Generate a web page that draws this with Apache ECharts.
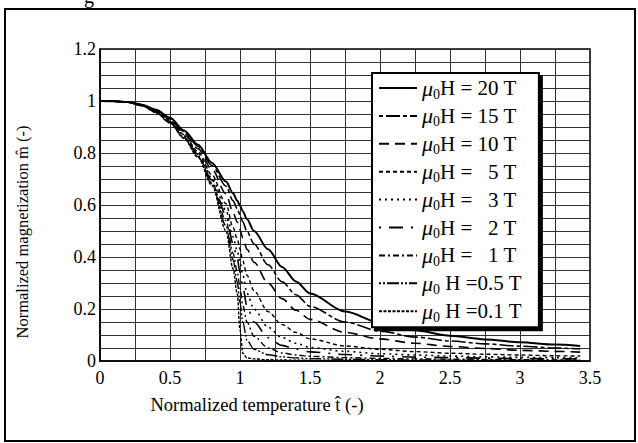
<!DOCTYPE html>
<html>
<head>
<meta charset="utf-8">
<script src="https://cdn.jsdelivr.net/npm/echarts@6/dist/echarts.min.js"></script>
<style>
html, body { margin: 0; padding: 0; background: #fff; }
#chart { width: 638px; height: 443px; }
</style>
</head>
<body>
<div id="chart"></div>
<script>
// 归一化温度
var tHat = [0, 0.1, 0.2, 0.3, 0.4, 0.5, 0.6, 0.7, 0.8, 0.9, 0.95, 0.98, 1.0, 1.02, 1.05, 1.1, 1.2, 1.3, 1.4, 1.5, 1.75, 2.0, 2.25, 2.5, 2.75, 3.0, 3.25, 3.43];
// 各磁场下的归一化磁化强度
var m20T = [1, 0.999, 0.996, 0.986, 0.966, 0.936, 0.887, 0.832, 0.762, 0.69, 0.645, 0.617, 0.597, 0.576, 0.545, 0.50, 0.43, 0.362, 0.306, 0.26, 0.19, 0.148, 0.118, 0.097, 0.083, 0.072, 0.063, 0.058];
var m15T = [1, 0.999, 0.996, 0.985, 0.964, 0.933, 0.883, 0.826, 0.752, 0.672, 0.617, 0.586, 0.562, 0.535, 0.498, 0.45, 0.37, 0.305, 0.255, 0.21, 0.15, 0.115, 0.092, 0.077, 0.066, 0.057, 0.05, 0.046];
var m10T = [1, 0.999, 0.996, 0.985, 0.962, 0.929, 0.877, 0.817, 0.737, 0.643, 0.572, 0.535, 0.505, 0.473, 0.43, 0.38, 0.30, 0.24, 0.195, 0.16, 0.11, 0.085, 0.068, 0.056, 0.048, 0.041, 0.037, 0.034];
var m5T = [1, 0.999, 0.995, 0.984, 0.96, 0.925, 0.871, 0.806, 0.715, 0.605, 0.515, 0.47, 0.43, 0.385, 0.33, 0.27, 0.19, 0.14, 0.11, 0.085, 0.058, 0.045, 0.036, 0.030, 0.026, 0.023, 0.020, 0.019];
var m3T = [1, 0.999, 0.995, 0.984, 0.959, 0.922, 0.867, 0.799, 0.703, 0.58, 0.478, 0.425, 0.38, 0.33, 0.26, 0.20, 0.13, 0.09, 0.068, 0.052, 0.037, 0.028, 0.023, 0.019, 0.016, 0.014, 0.013, 0.012];
var m2T = [1, 0.999, 0.995, 0.983, 0.958, 0.92, 0.864, 0.795, 0.695, 0.562, 0.452, 0.395, 0.34, 0.285, 0.21, 0.15, 0.09, 0.06, 0.045, 0.035, 0.025, 0.019, 0.015, 0.013, 0.011, 0.0095, 0.0085, 0.008];
var m1T = [1, 0.999, 0.995, 0.983, 0.957, 0.918, 0.861, 0.79, 0.686, 0.54, 0.415, 0.345, 0.28, 0.215, 0.15, 0.095, 0.05, 0.031, 0.023, 0.018, 0.013, 0.01, 0.008, 0.007, 0.006, 0.005, 0.0045, 0.004];
var m05T = [1, 0.999, 0.995, 0.982, 0.956, 0.916, 0.858, 0.786, 0.68, 0.52, 0.39, 0.305, 0.225, 0.15, 0.08, 0.045, 0.024, 0.016, 0.012, 0.009, 0.007, 0.005, 0.004, 0.0035, 0.003, 0.0027, 0.0024, 0.0022];
var m01T = [1, 0.999, 0.995, 0.982, 0.955, 0.915, 0.856, 0.783, 0.675, 0.50, 0.355, 0.26, 0.12, 0.03, 0.012, 0.008, 0.005, 0.004, 0.003, 0.0025, 0.002, 0.0015, 0.0012, 0.001, 0.001, 0.0009, 0.0008, 0.0007];

// 图例文字
var fieldLabels = ['H = 20 T', 'H = 15 T', 'H = 10 T', 'H =   5 T', 'H =   3 T', 'H =   2 T', 'H =   1 T', ' H =0.5 T', ' H =0.1 T'];
var curves = [m20T, m15T, m10T, m5T, m3T, m2T, m1T, m05T, m01T];

// 线型
var lineTypes = [
	'solid',
	[4, 3, 14, 3],
	[10, 6],
	[4, 3],
	[2, 4],
	[2, 8, 14, 8],
	[6, 3, 2, 3],
	[2, 2, 2, 2, 12, 2],
	[3, 1.5]
];
var lineWidths = [2, 1.6, 1.6, 1.4, 1.6, 1.6, 1.4, 1.4, 1.4];

var serif = '"Liberation Serif", "Times New Roman", serif';

var series = curves.map(function(arr, k) {
	return {
		name : fieldLabels[k],
		type : 'line',
		symbol : 'none',
		smooth : 0.3,
		smoothMonotone : 'x',
		lineStyle : {
			color : '#000',
			width : lineWidths[k],
			type : lineTypes[k]
		},
		itemStyle : {
			color : '#000'
		},
		data : tHat.map(function(t, i) {
			return [ t, arr[i] ];
		})
	};
});

var chart = echarts.init(document.getElementById('chart'), null, {
	renderer : 'svg'
});

var gridLine = {
	show : true,
	lineStyle : {
		color : '#333',
		width : 1
	}
};

chart.setOption({
	animation : false,
	backgroundColor : '#fff',
	grid : {
		left : 100,
		right : 48,
		top : 49,
		bottom : 82,
		show : true,
		borderColor : '#000',
		borderWidth : 1.5
	},
	xAxis : {
		type : 'value',
		min : 0,
		max : 3.5,
		interval : 0.5,
		axisLine : {
			show : true,
			lineStyle : {
				color : '#000',
				width : 1.5
			}
		},
		axisTick : {
			show : false
		},
		axisLabel : {
			color : '#000',
			fontFamily : serif,
			fontSize : 18,
			margin : 8
		},
		splitLine : gridLine,
		minorTick : {
			show : false,
			splitNumber : 2
		},
		minorSplitLine : gridLine
	},
	yAxis : {
		type : 'value',
		min : 0,
		max : 1.2,
		interval : 0.2,
		axisLine : {
			show : true,
			lineStyle : {
				color : '#000',
				width : 1.5
			}
		},
		axisTick : {
			show : false
		},
		axisLabel : {
			color : '#000',
			fontFamily : serif,
			fontSize : 18,
			margin : 4
		},
		splitLine : gridLine,
		minorTick : {
			show : false,
			splitNumber : 4
		},
		minorSplitLine : gridLine
	},
	legend : {
		orient : 'vertical',
		left : 372,
		top : 73,
		padding : [ 4, 17, 3, 6 ],
		itemWidth : 38,
		itemHeight : 14,
		itemGap : 3.9,
		backgroundColor : '#fff',
		borderColor : '#000',
		borderWidth : 2,
		borderRadius : 0,
		shadowColor : '#000',
		shadowOffsetX : 3,
		shadowOffsetY : 3,
		shadowBlur : 0,
		// 隐藏图例中的圆点
		itemStyle : {
			color : 'rgba(0,0,0,0)',
			borderColor : 'rgba(0,0,0,0)',
			borderWidth : 0,
			opacity : 0
		},
		data : fieldLabels,
		formatter : function(name) {
			return '{mu|\u03bc}{sub|0}{t|' + name + '}';
		},
		textStyle : {
			color : '#000',
			fontFamily : serif,
			fontSize : 21,
			rich : {
				mu : {
					fontFamily : serif,
					fontStyle : 'italic',
					fontSize : 22,
					lineHeight : 26,
					color : '#000'
				},
				sub : {
					fontFamily : serif,
					fontSize : 14,
					lineHeight : 14,
					verticalAlign : 'bottom',
					color : '#000'
				},
				t : {
					fontFamily : serif,
					fontSize : 21,
					lineHeight : 26,
					color : '#000'
				}
			}
		}
	},
	graphic : [ {
		// 外框
		type : 'rect',
		shape : {
			x : 5,
			y : 9,
			width : 630,
			height : 432
		},
		style : {
			fill : 'none',
			stroke : '#000',
			lineWidth : 2
		},
		silent : true
	}, {
		type : 'text',
		left : 84,
		top : -14,
		style : {
			text : 'g',
			fontFamily : serif,
			fontSize : 20,
			fill : '#000'
		}
	}, {
		// y轴标题
		type : 'text',
		x : 22,
		y : 232,
		rotation : Math.PI / 2,
		style : {
			text : 'Normalized magnetization m\u0302 (-)',
			fontFamily : serif,
			fontSize : 16.5,
			fill : '#000',
			align : 'center',
			verticalAlign : 'middle'
		}
	}, {
		// x轴标题
		type : 'text',
		x : 257,
		y : 405,
		style : {
			text : 'Normalized temperature t\u0302 (-)',
			fontFamily : serif,
			fontSize : 18.5,
			fill : '#000',
			align : 'center',
			verticalAlign : 'middle'
		}
	} ],
	series : series
});
</script>
</body>
</html>
